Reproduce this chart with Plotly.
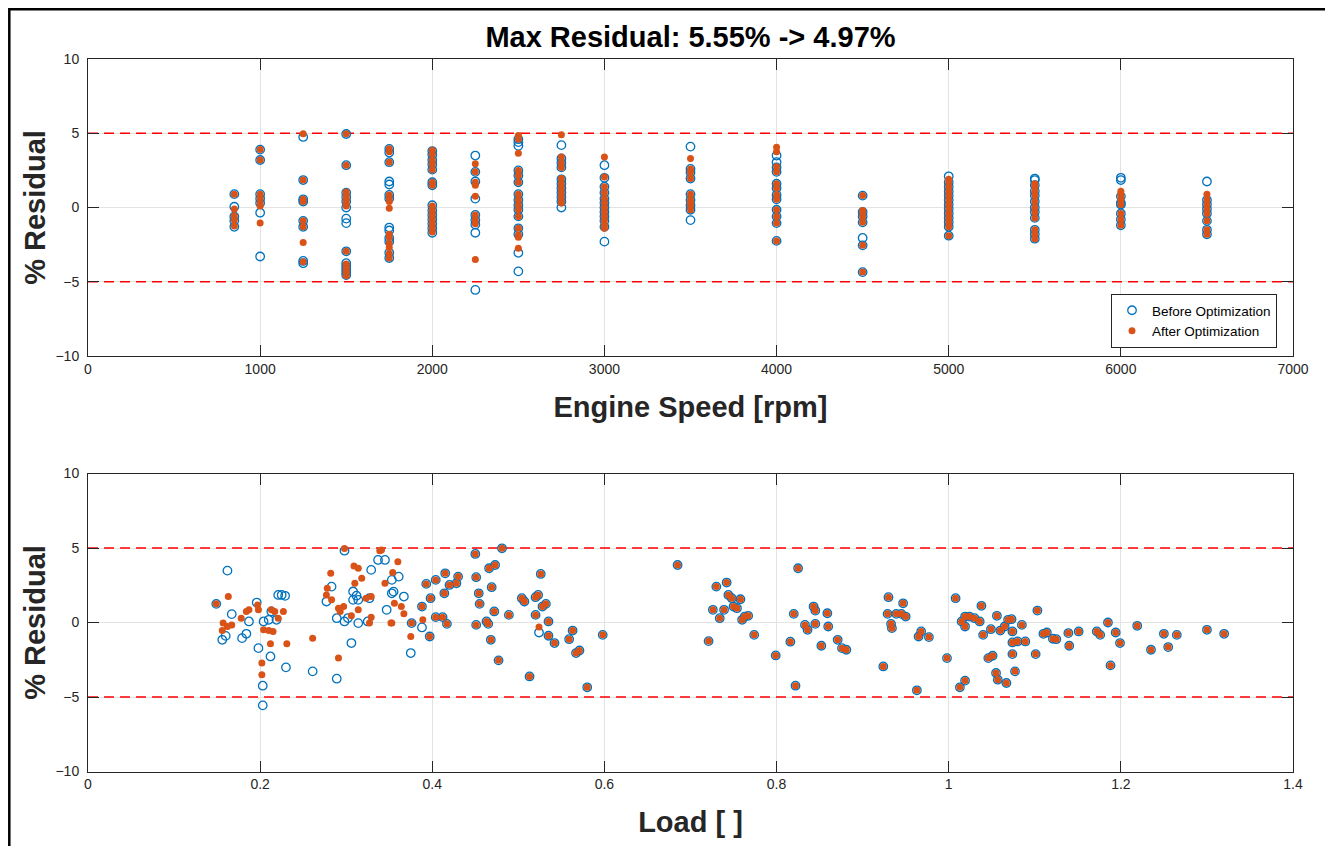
import plotly.graph_objects as go

# ---------------- data: top panel (residual vs engine speed) ----------------
speeds = [850, 1000, 1250, 1500, 1750, 2000, 2250, 2500, 2750, 3000,
          3500, 4000, 4500, 5000, 5500, 6000, 6500]

before_by_speed = [
    [0.9, 0.05, -0.6, -0.9, -1.3],
    [3.9, 3.2, 0.9, 0.6, 0.3, -0.35, -3.3],
    [4.75, 1.85, 0.55, 0.4, -0.9, -1.3, -3.6, -3.75],
    [4.95, 2.85, 1.0, 0.7, 0.4, 0.0, -0.75, -1.05, -2.95, -3.75, -3.95, -4.15, -4.35, -4.55],
    [3.95, 3.7, 3.05, 1.75, 1.55, 0.85, 0.6, -1.35, -1.55, -2.05, -2.3, -3.05, -3.4],
    [3.8, 3.55, 3.2, 2.9, 2.55, 1.7, 1.5, 0.15, -0.2, -0.5, -0.8, -1.1, -1.4, -1.7],
    [3.5, 2.4, 1.75, 0.6, -0.5, -0.85, -1.15, -1.7, -5.55],
    [4.6, 4.4, 4.15, 2.5, 2.15, 1.7, 0.9, 0.5, 0.15, -0.15, -0.6, -1.4, -1.8, -3.05, -4.3],
    [4.2, 3.3, 3.0, 2.7, 1.9, 1.6, 1.3, 1.0, 0.7, 0.4, 0.0],
    [2.85, 2.0, 1.4, 1.0, 0.6, 0.3, 0.0, -0.3, -0.6, -0.9, -1.3, -2.3],
    [4.1, 2.6, 2.35, 1.95, 0.9, 0.5, 0.15, -0.15, -0.85],
    [3.5, 3.05, 2.7, 2.4, 1.6, 1.3, 0.85, 0.55, -0.15, -0.6, -1.05, -2.25],
    [0.8, -0.3, -0.6, -1.0, -2.05, -2.55, -4.35],
    [2.1, 1.7, 1.4, 1.1, 0.8, 0.5, 0.2, -0.1, -0.4, -0.7, -1.0, -1.3, -1.9],
    [1.95, 1.85, 1.5, 1.1, 0.8, 0.4, 0.0, -0.3, -0.7, -1.5, -1.8, -2.1],
    [2.0, 1.85, 0.75, 0.3, 0.2, -0.4, -0.8, -1.2],
    [1.75, 0.5, 0.2, -0.1, -0.4, -0.9, -1.5, -1.8],
]

after_by_speed = [
    [0.9, -0.1, -0.55, -0.85, -1.25],
    [3.9, 3.2, 0.9, 0.6, 0.3, 0.1, -1.05],
    [4.97, 1.85, 0.55, 0.4, -0.9, -1.3, -2.35, -3.65],
    [4.97, 2.85, 1.05, 0.85, 0.5, 0.1, 0.3, 0.6, -2.95, -3.8, -4.0, -4.2, -4.4, -4.6],
    [3.95, 3.75, 3.05, 0.4, -0.05, 0.85, 0.6, -1.8, -2.0, -2.4, -2.7, -3.1, -3.4],
    [3.85, 3.6, 3.2, 2.9, 2.55, 1.7, 1.5, 0.1, -0.2, -0.5, -0.8, -1.1, -1.4, -1.65],
    [2.95, 2.4, 1.7, 1.5, 0.75, -0.5, -0.85, -1.1, -3.5],
    [4.85, 4.6, 3.65, 2.5, 2.15, 1.7, 0.9, 0.5, 0.15, -0.15, -0.6, -1.4, -1.85, -2.75, -2.0],
    [4.9, 3.4, 3.0, 2.7, 1.95, 1.6, 1.3, 1.0, 0.7, 0.4, 0.3],
    [3.4, 2.05, 1.4, 1.0, 0.6, 0.3, 0.0, -0.3, -0.6, -0.9, -1.4, -1.2],
    [3.3, 2.6, 2.35, 1.95, 0.9, 0.5, 0.15, -0.15, 0.3],
    [4.05, 3.75, 2.75, 2.4, 1.6, 1.3, 0.85, 0.55, -0.15, -0.6, -1.05, -2.25],
    [0.8, -0.3, -0.6, -1.0, -0.2, -2.55, -4.35],
    [1.9, 1.7, 1.4, 1.1, 0.8, 0.5, 0.2, -0.1, -0.4, -0.7, -1.0, -1.3, -1.9],
    [1.6, 1.4, 1.5, 1.1, 0.8, 0.4, 0.0, -0.3, -0.7, -1.5, -1.8, -2.1],
    [1.1, 0.9, 0.75, 0.5, 0.2, -0.4, -0.8, -1.2],
    [0.9, 0.5, 0.2, -0.1, -0.4, -0.9, -1.5, -1.8],
]

# ---------------- data: bottom panel (residual vs load) ----------------
# points where the residual did not change with the optimization
load_shared = [
    0.376, 0.388, 0.393, 0.397, 0.398, 0.404, 0.404, 0.412, 0.414, 0.415,
    0.417, 0.420, 0.428, 0.430, 0.450, 0.451, 0.454, 0.455, 0.451, 0.463,
    0.465, 0.466, 0.473, 0.469, 0.468, 0.472, 0.481, 0.477, 0.489, 0.504,
    0.507, 0.513, 0.520, 0.523, 0.526, 0.520, 0.528, 0.532, 0.535, 0.535,
    0.542, 0.559, 0.563, 0.567, 0.571, 0.580, 0.598,
    0.685, 0.721, 0.726, 0.730, 0.734, 0.739, 0.742, 0.744, 0.748, 0.750,
    0.754, 0.758, 0.760, 0.763, 0.767, 0.774, 0.799, 0.816, 0.820, 0.822,
    0.825, 0.833, 0.836, 0.843, 0.845, 0.845, 0.852, 0.859, 0.860, 0.871,
    0.876, 0.881, 0.924, 0.930, 0.929, 0.933, 0.934, 0.939, 0.947, 0.945,
    0.950, 0.963, 0.965, 0.968, 0.977, 0.998,
    1.008, 1.013, 1.019, 1.015, 1.019, 1.019, 1.024, 1.030, 1.036, 1.038,
    1.040, 1.046, 1.051, 1.049, 1.056, 1.055, 1.057, 1.060, 1.065, 1.067,
    1.069, 1.073, 1.074, 1.074, 1.074, 1.077, 1.080, 1.085, 1.089, 1.101,
    1.103, 1.110, 1.114, 1.121, 1.125, 1.139, 1.140, 1.151, 1.172, 1.176,
    1.185, 1.188, 1.194, 1.199, 1.219, 1.235, 1.250, 1.255, 1.265, 1.300,
    1.320,
]
res_shared = [
    -0.04, 1.07, 2.59, -0.94, 1.63, 2.86, 0.36, 0.36, 1.96, 3.30,
    -0.09, 2.52, 2.63, 3.08, 4.60, 3.04, 1.96, 1.25, -0.16, 0.07,
    -0.09, 3.64, 3.86, 2.37, -1.16, 0.74, 4.98, -2.54, 0.51, 1.63,
    1.41, -3.62, 1.70, 1.85, 3.26, 0.51, 1.07, 1.25, 0.07, -0.89,
    -1.38, -1.12, -0.54, -2.05, -1.88, -4.35, -0.83,
    3.86, -1.25, 0.85, 2.41, 0.29, 0.85, 2.68, 1.85, 1.63, 1.07,
    0.96, 1.56, 0.18, 0.40, 0.45, -0.83, -2.21, -1.29, 0.58, -4.24,
    3.64, -0.16, -0.49, 1.07, 0.80, -0.09, -1.56, 0.62, -0.27, -1.16,
    -1.72, -1.83, -2.95, 1.70, 0.58, -0.09, -0.38, 0.58, 1.29, 0.58,
    0.40, -4.55, -0.94, -0.60, -0.98, -2.39,
    1.63, -4.35, -3.90, 0.07, 0.40, -0.27, 0.40, 0.29, 0.07, 1.12,
    -0.83, -2.39, -2.23, -0.45, 0.45, -3.39, -3.84, -0.54, -0.27, -4.06,
    0.18, 0.22, -0.60, -1.34, -2.12, -3.28, -1.27, -0.16, -1.27, -2.12,
    0.80, -0.76, -0.67, -1.09, -1.12, -0.71, -1.56, -0.60, -0.60, -0.83,
    0.00, -2.88, -0.67, -1.38, -0.22, -1.83, -0.76, -1.65, -0.83, -0.49,
    -0.76,
]

# low-load points before optimization
load_before_only = [
    0.149, 0.162, 0.167, 0.156, 0.160, 0.179, 0.184, 0.187, 0.196, 0.198,
    0.204, 0.210, 0.212, 0.213, 0.219, 0.221, 0.225, 0.229, 0.230, 0.203,
    0.203, 0.261, 0.289, 0.306, 0.298, 0.277, 0.283, 0.289, 0.298, 0.308,
    0.314, 0.314, 0.327, 0.325, 0.329, 0.337, 0.345, 0.353, 0.353, 0.347,
    0.361, 0.355, 0.367, 0.375, 0.388, 0.524, 0.308, 0.312, 0.302,
]
res_before_only = [
    1.25, 3.48, 0.56, -1.16, -0.90, -1.05, -0.76, 0.07, 1.34, -1.72,
    0.07, 0.18, -2.28, 0.74, 0.18, 1.85, 1.85, 1.79, -3.01, -4.24,
    -5.56, -3.28, -3.77, -1.38, 4.82, 1.41, 2.41, 0.29, 0.07, 2.08,
    1.52, -0.04, 1.63, 0.07, 3.53, 4.20, 4.20, 2.86, 1.96, 0.85,
    3.08, 2.07, 1.74, -2.05, -0.33, -0.67, 1.52, 1.80, 0.30,
]

# low-load points after optimization
load_after_only = [
    0.149, 0.163, 0.157, 0.156, 0.162, 0.167, 0.178, 0.184, 0.187, 0.197,
    0.198, 0.204, 0.210, 0.215, 0.213, 0.217, 0.221, 0.227, 0.212, 0.231,
    0.261, 0.202, 0.202, 0.282, 0.278, 0.277, 0.283, 0.291, 0.293, 0.297,
    0.298, 0.291, 0.309, 0.314, 0.310, 0.318, 0.306, 0.314, 0.323, 0.329,
    0.329, 0.339, 0.345, 0.353, 0.354, 0.356, 0.360, 0.364, 0.367, 0.352,
    0.375, 0.389, 0.524, 0.341, 0.327,
]
res_after_only = [
    1.25, 1.74, -0.04, -0.54, -0.27, -0.16, 0.29, 0.74, 0.85, 1.18,
    0.85, -0.49, -0.54, -0.60, 0.85, 0.74, 0.29, 0.74, -1.43, -1.43,
    -1.05, -2.72, -3.50, 3.30, 2.30, 1.85, 1.52, 0.96, 0.74, 1.07,
    4.97, -2.39, 3.80, 3.64, 2.63, 2.97, 0.45, 0.85, 1.63, 1.74,
    0.36, 4.82, 2.63, -0.04, 3.35, 1.29, 4.08, 1.07, 0.58, -0.04,
    -0.94, 0.18, -0.31, 4.87, -0.04,
]

# axis limits and the +/-5 % tolerance band
speed_limits = [0, 7000]
load_limits = [0, 1.4]
residual_limits = [-10, 10]
tolerance_levels = [5, -5]
title_text = "Max Residual: 5.55% -> 4.97%"

# ---------------- build series ----------------
speed_before = [s for s, vals in zip(speeds, before_by_speed) for _ in vals]
res_b_speed = [v for vals in before_by_speed for v in vals]
speed_after = [s for s, vals in zip(speeds, after_by_speed) for _ in vals]
res_a_speed = [v for vals in after_by_speed for v in vals]

load_before = load_before_only + load_shared
res_b_load = res_before_only + res_shared
load_after = load_after_only + load_shared
res_a_load = res_after_only + res_shared

BLUE = "#0072BD"
ORANGE = "#D95319"
AX = "#262626"
GRID = "#e3e3e3"
FONT = "Liberation Sans, Arial, sans-serif"

# the page body has an 8px default margin; size the figure so it fills the window
OFF = 8
W, H = 1333 - OFF, 846 - OFF


def px(x):
    """page x pixel -> paper fraction"""
    return (x - OFF) / W


def py(y):
    """page y pixel -> paper fraction"""
    return 1 - (y - OFF) / H


before_marker = dict(symbol="circle-open", size=8.5, color=BLUE, line=dict(width=1.3, color=BLUE))
after_marker = dict(symbol="circle", size=7, color=ORANGE, line=dict(width=0))
tol_line = dict(color="#FF0000", width=1.3, dash="10px,6px")

fig = go.Figure()
# tolerance band lines
for xs, xa, ya in ((speed_limits, "x", "y"), (load_limits, "x2", "y2")):
    for lv in tolerance_levels:
        fig.add_trace(go.Scatter(x=xs, y=[lv, lv], mode="lines", line=tol_line, xaxis=xa, yaxis=ya,
                                 showlegend=False, hoverinfo="skip"))

fig.add_trace(go.Scatter(x=speed_before, y=res_b_speed, mode="markers", name="Before Optimization",
                         marker=before_marker, xaxis="x", yaxis="y"))
fig.add_trace(go.Scatter(x=speed_after, y=res_a_speed, mode="markers", name="After Optimization",
                         marker=after_marker, xaxis="x", yaxis="y"))
fig.add_trace(go.Scatter(x=load_before, y=res_b_load, mode="markers", name="Before Optimization",
                         marker=before_marker, xaxis="x2", yaxis="y2", showlegend=False))
fig.add_trace(go.Scatter(x=load_after, y=res_a_load, mode="markers", name="After Optimization",
                         marker=after_marker, xaxis="x2", yaxis="y2", showlegend=False))

# outer frame of the figure window
shapes = [dict(type="rect", xref="paper", yref="paper", x0=px(9.3), x1=px(1327), y0=py(900), y1=py(9.3),
               line=dict(color="black", width=2.5), fillcolor="rgba(0,0,0,0)", layer="above")]

axis_common = dict(
    showline=True, linecolor=AX, linewidth=1, mirror="ticks",
    ticks="inside", ticklen=11, tickwidth=1, tickcolor=AX,
    showgrid=True, gridcolor=GRID, gridwidth=1, zeroline=False, automargin=False,
    tickfont=dict(family=FONT, size=14, color=AX),
)
title_font = dict(family=FONT, size=29, color=AX)

fig.update_layout(
    width=W, height=H,
    margin=dict(l=0, r=0, t=0, b=0, autoexpand=False),
    paper_bgcolor="white", plot_bgcolor="white",
    font=dict(family=FONT, color=AX),
    title=dict(text="<b>" + title_text + "</b>", x=px(690.5), xanchor="center", y=py(37), yanchor="middle",
               yref="paper", xref="paper", font=dict(family=FONT, size=29, color="black")),
    xaxis=dict(domain=[px(88), px(1293)], range=speed_limits, dtick=1000, tick0=0, anchor="y",
               title=dict(text="<b>Engine Speed [rpm]</b>", font=title_font, standoff=20), **axis_common),
    yaxis=dict(domain=[py(356), py(59)], range=residual_limits, dtick=5, tick0=0, anchor="x", ticklabelstandoff=5,
               title=dict(text="<b>% Residual</b>", font=title_font, standoff=1), **axis_common),
    xaxis2=dict(domain=[px(88), px(1293)], range=load_limits, dtick=0.2, tick0=0, anchor="y2",
                title=dict(text="<b>Load [ ]</b>", font=title_font, standoff=20), **axis_common),
    yaxis2=dict(domain=[py(771.5), py(473.5)], range=residual_limits, dtick=5, tick0=0, anchor="x2", ticklabelstandoff=5,
                title=dict(text="<b>% Residual</b>", font=title_font, standoff=1), **axis_common),
    legend=dict(x=px(1277), xanchor="right", y=py(294), yanchor="top", xref="paper", yref="paper",
                bgcolor="white", bordercolor=AX, borderwidth=1,
                font=dict(family=FONT, size=13.5, color="black"), tracegroupgap=0),
    shapes=shapes,
    showlegend=True,
)

fig.write_html("out.html")
